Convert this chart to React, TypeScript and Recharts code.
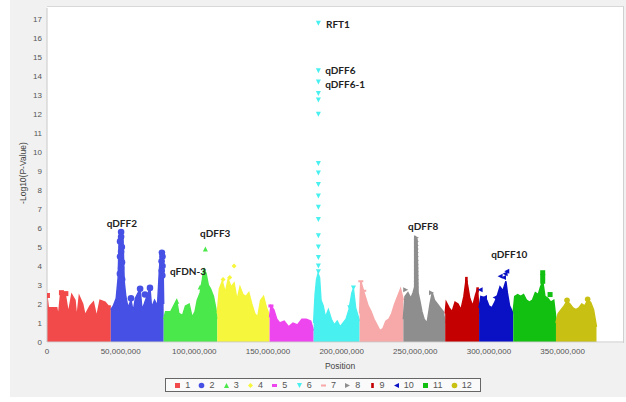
import React from "react";
import { ComposedChart, Area, Scatter, XAxis, YAxis } from "recharts";

const CHROMS = ["1", "2", "3", "4", "5", "6", "7", "8", "9", "10", "11", "12"];
const COLORS = [
  "#F24A4A", "#4650E4", "#4AE84A", "#F6F63C", "#EE46EE", "#48F0F0",
  "#F7A8A8", "#8E8E8E", "#C40000", "#0A10C4", "#12C012", "#C8C012",
];
const SHAPES = [
  "square", "circle", "up", "diamond", "flat", "down",
  "dash", "right", "bar", "left", "square", "circle",
];

const X_TICKS = [0, 50e6, 100e6, 150e6, 200e6, 250e6, 300e6, 350e6];
const Y_TICKS = [0, 1, 2, 3, 4, 5, 6, 7, 8, 9, 10, 11, 12, 13, 14, 15, 16, 17];

// upper edge of the dense SNP cloud per chromosome: [Mb, -log10(p)]
const chr1 = [[0, 2.4], [0.9, 1.8], [6.6, 1.8], [7.7, 1.3], [9.3, 2.6], [12.2, 2.6], [14.5, 1.5], [16.8, 2.5], [19, 2.2], [20.2, 1.2], [21.9, 2.4], [24.2, 2.0], [25.8, 1.4], [29.2, 1.9], [31.5, 2.1], [33.7, 1.3], [36, 2.2], [39.4, 2.1], [41.6, 1.9], [43.3, 1.9]];
const chr2 = [[43.3, 1.7], [45, 1.9], [47, 2.3], [48.3, 3.4], [49, 5.4], [50.2, 5.85], [51.6, 5.4], [52.4, 3.2], [53.5, 2.4], [55, 1.8], [57, 2.2], [58.5, 1.6], [60, 2.3], [63.2, 2.8], [64.5, 1.7], [66, 2.0], [69.9, 2.85], [71, 1.8], [73, 2.2], [75, 1.9], [76.3, 3.8], [77.2, 4.7], [78.7, 4.6], [79.2, 2.0]];
const chr3 = [[79.2, 1.2], [80.5, 1.6], [84, 1.6], [86, 1.9], [88, 2.2], [89.5, 1.5], [92, 1.4], [94, 1.9], [96.5, 2.0], [98.5, 1.3], [100.5, 1.6], [102, 2.2], [104, 2.6], [105.5, 3.3], [106.5, 3.9], [108, 3.6], [109.5, 3.0], [111, 2.8], [113, 2.4], [114.5, 1.8], [115.6, 1.2]];
const chr4 = [[115.6, 1.5], [117, 2.8], [119, 3.2], [121, 2.6], [123, 3.3], [125, 2.9], [127, 3.1], [129, 2.2], [131, 2.9], [133, 2.5], [135, 2.4], [137, 2.6], [139, 2.0], [141, 1.5], [143, 1.3], [145, 2.2], [147, 2.4], [149, 1.8], [151.1, 1.4]];
const chr5 = [[151.1, 1.3], [152, 1.9], [154, 1.7], [156, 1.2], [158, 1.0], [161, 1.1], [164, 0.8], [167, 1.0], [170, 0.9], [173, 1.2], [176, 1.2], [179, 1.1], [181, 0.6]];
const chr6 = [[181, 1.0], [182, 2.5], [183, 3.3], [184, 3.6], [185, 3.4], [186, 2.2], [187.5, 1.9], [189, 1.3], [191, 1.7], [193, 1.2], [195, 0.9], [197, 1.1], [199, 0.8], [201, 1.0], [203, 1.2], [205, 1.7], [207, 2.6], [208, 2.8], [209.5, 1.8], [211, 1.4], [212.2, 1.1]];
const chr7 = [[212.2, 1.5], [213, 3.2], [214.5, 2.8], [216, 2.4], [218, 1.9], [220, 1.6], [222, 1.2], [224, 0.9], [226, 0.6], [228, 0.7], [230, 1.1], [232, 1.2], [234, 1.5], [236, 2.0], [238, 2.4], [240, 2.8], [241.9, 2.2]];
const chr8 = [[241.9, 1.2], [243, 2.4], [245, 2.6], [247, 2.3], [248.5, 2.6], [249.6, 2.9], [250.3, 5.5], [251.2, 5.4], [251.9, 2.6], [253, 2.2], [254.5, 1.6], [256, 1.2], [258, 1.0], [260, 2.0], [261.5, 2.6], [263, 2.2], [265, 2.0], [267, 1.8], [269, 1.6], [270.3, 1.0]];
const chr9 = [[270.3, 1.5], [271, 2.1], [273, 1.8], [275, 1.6], [277, 2.1], [279, 2.0], [281, 1.7], [283, 2.4], [284.5, 3.3], [285.5, 3.0], [287, 2.3], [289, 1.9], [291, 2.5], [292.3, 2.8], [293.3, 1.5]];
const chr10 = [[293.3, 1.8], [294.5, 2.4], [296.5, 2.35], [298.5, 2.2], [300, 1.9], [302, 1.8], [304, 2.1], [305.5, 2.4], [307.5, 2.9], [309.5, 2.7], [311.5, 3.2], [312.5, 2.6], [314, 1.9], [316.5, 1.5]];
const chr11 = [[316.5, 1.6], [317.5, 2.4], [319.5, 2.5], [321.5, 2.4], [323.5, 2.5], [325.5, 2.2], [327.5, 2.1], [329.5, 2.2], [331.5, 2.6], [333.5, 2.5], [335, 2.9], [336.5, 3.2], [338, 2.4], [340, 2.3], [342, 2.1], [344, 2.2], [345.5, 1.2]];
const chr12 = [[345.5, 1.0], [347, 1.5], [349, 1.7], [351, 1.9], [353, 2.15], [355, 2.0], [357, 1.8], [359, 1.7], [361, 1.8], [363, 2.0], [365, 1.9], [367, 2.2], [369, 2.1], [371, 1.7], [373, 0.8]];
const ENVELOPES = [chr1, chr2, chr3, chr4, chr5, chr6, chr7, chr8, chr9, chr10, chr11, chr12];

// single markers standing above the cloud: [Mb, -log10(p)]
const hits1 = [[0.3, 2.45], [9.8, 2.6], [12.8, 2.55]];
const hits2 = [[50.3, 5.8], [50.3, 5.55], [49.6, 5.3], [50.8, 5.0], [50.3, 4.75], [49.6, 4.5], [50.9, 4.2], [50.3, 3.9], [49.5, 3.6], [51.0, 3.3], [78.0, 4.7], [78.4, 4.5], [77.8, 4.25], [78.4, 4.0], [77.9, 3.75], [78.3, 3.5], [57, 2.3], [63.2, 2.8], [66.5, 2.5], [69.9, 2.85]];
const hits3 = [[107.5, 4.9], [88.1, 2.15], [104, 2.9]];
const hits4 = [[127, 4.0], [124, 3.4], [119.5, 3.3]];
const hits5 = [[152, 1.9]];
const hits6 = [[184.2, 16.8], [184.2, 14.3], [184.2, 13.7], [184.2, 13.1], [184.2, 12.75], [184.2, 12.0], [184.2, 9.4], [184.2, 8.9], [184.2, 8.3], [184.2, 7.7], [184.2, 7.1], [184.2, 6.45], [184.2, 5.6], [184.2, 5.0], [184.2, 4.45], [184.2, 4.0], [184.2, 3.7], [208, 2.85], [205.5, 1.8]];
const hits7 = [[213, 3.2], [215, 2.7]];
const hits8 = [[250.8, 5.5], [250.8, 5.3], [250.8, 5.1], [250.8, 4.9], [250.8, 4.7], [250.8, 4.5], [250.8, 4.3], [250.8, 4.1], [250.8, 3.9], [250.8, 3.7], [250.8, 3.5], [250.8, 3.3], [250.8, 3.1], [250.8, 2.9], [243.5, 2.75], [261, 2.6]];
const hits9 = [[284.7, 3.3], [284.7, 3.1], [284.7, 2.9], [284.7, 2.7], [292.3, 2.75]];
const hits10 = [[294, 2.75], [297, 2.35], [304.2, 2.35], [307.6, 3.46], [309.9, 3.4], [312.1, 3.73], [311, 3.6]];
const hits11 = [[336.5, 3.65], [336.5, 3.45], [336.5, 3.2], [341.5, 2.5]];
const hits12 = [[353, 2.2], [367, 2.25]];
const HITS = [hits1, hits2, hits3, hits4, hits5, hits6, hits7, hits8, hits9, hits10, hits11, hits12];

// QTL / gene names written next to the peaks: [name, Mb, -log10(p)]
const NOTES: [string, number, number][] = [
  ["RFT1", 189.4, 16.76],
  ["qDFF6", 188.8, 14.34],
  ["qDFF6-1", 188.8, 13.6],
  ["qDFF2", 40.5, 6.27],
  ["qFDN-3", 83.5, 3.76],
  ["qDFF3", 103.9, 5.76],
  ["qDFF8", 245.1, 6.13],
  ["qDFF10", 301.5, 4.66],
];

const table = ENVELOPES.flatMap((env, i) =>
  env.map(([mb, p]) => ({ pos: mb * 1e6, ["c" + i]: p }))
);

function Marker({ kind, x, y, color, s = 5 }: { kind: string; x: number; y: number; color: string; s?: number }) {
  const h = s / 2;
  switch (kind) {
    case "square":
      return <rect x={x - h} y={y - h} width={s} height={s} fill={color} />;
    case "circle":
      return <circle cx={x} cy={y} r={h + 0.3} fill={color} />;
    case "up":
      return <polygon points={`${x},${y - h} ${x + h},${y + h} ${x - h},${y + h}`} fill={color} />;
    case "diamond":
      return <polygon points={`${x},${y - h} ${x + h},${y} ${x},${y + h} ${x - h},${y}`} fill={color} />;
    case "flat":
      return <rect x={x - h} y={y - h * 0.6} width={s} height={h * 1.2} fill={color} />;
    case "down":
      return <polygon points={`${x - h},${y - h} ${x + h},${y - h} ${x},${y + h}`} fill={color} />;
    case "dash":
      return <rect x={x - h} y={y - 1} width={s} height={2} fill={color} />;
    case "right":
      return <polygon points={`${x - h},${y - h} ${x + h},${y} ${x - h},${y + h}`} fill={color} />;
    case "bar":
      return <rect x={x - 1.3} y={y - h} width={2.6} height={s} fill={color} />;
    case "left":
      return <polygon points={`${x + h},${y - h} ${x - h},${y} ${x + h},${y + h}`} fill={color} />;
    default:
      return null;
  }
}

const fmt = (v: number) => v.toLocaleString("en-US");
const tickStyle = { fontSize: 8, fill: "#555", fontFamily: "Liberation Sans, Arial, sans-serif" };

export default function App() {
  return (
    <div style={{ position: "absolute", left: 0, top: 0, width: 626, height: 402, background: "#fff", fontFamily: "Liberation Sans, Arial, sans-serif" }}>
      <div style={{ position: "absolute", left: 10, top: 0, width: 616, height: 397, background: "#f1f1f1" }} />
      <div style={{ position: "absolute", left: 47, top: 6, width: 576, height: 336, background: "#fff", borderTop: "1px solid #d8d8d8", borderRight: "1px solid #d0d0d0" }} />
      <div style={{ position: "absolute", left: 0, top: 0 }}>
        <ComposedChart width={626} height={402} data={table} margin={{ top: 8, right: 3, bottom: 40, left: 10 }}>
          <XAxis
            dataKey="pos"
            type="number"
            domain={[0, 391e6]}
            ticks={X_TICKS}
            tickFormatter={fmt}
            tick={tickStyle}
            tickLine={false}
            tickSize={3}
            tickMargin={3}
            height={20}
            stroke="#c8c8c8"
            allowDataOverflow
          />
          <YAxis
            type="number"
            domain={[0, 17.6]}
            ticks={Y_TICKS}
            tick={tickStyle}
            tickLine={false}
            tickSize={3}
            tickMargin={2}
            width={37}
            stroke="#c8c8c8"
            allowDataOverflow
          />
          {CHROMS.map((c, i) => (
            <Area
              key={"a" + c}
              type="linear"
              dataKey={"c" + i}
              stroke={COLORS[i]}
              strokeWidth={1.5}
              fill={COLORS[i]}
              fillOpacity={1}
              dot={false}
              activeDot={false}
              isAnimationActive={false}
            />
          ))}
          {CHROMS.map((c, i) => (
            <Scatter
              key={"s" + c}
              data={HITS[i].map(([mb, p]) => ({ pos: mb * 1e6, p }))}
              dataKey="p"
              isAnimationActive={false}
              shape={(props: any) => <Marker kind={SHAPES[i]} x={props.cx} y={props.cy} color={COLORS[i]} s={i === 1 ? 6 : 5} />}
            />
          ))}
          <Scatter
            data={NOTES.map(([name, mb, p]) => ({ pos: mb * 1e6, p, name }))}
            dataKey="p"
            isAnimationActive={false}
            shape={(props: any) => (
              <text
                x={props.cx}
                y={props.cy}
                dominantBaseline="central"
                fontFamily="Lato, sans-serif"
                fontWeight={700}
                fontSize={10}
                fill="#222"
              >
                {props.payload.name}
              </text>
            )}
          />
        </ComposedChart>
      </div>
      <div style={{ position: "absolute", left: 23, top: 173, transform: "translate(-50%, -50%) rotate(-90deg)", fontSize: 8.5, color: "#444", whiteSpace: "nowrap" }}>
        -Log10(P-Value)
      </div>
      <div style={{ position: "absolute", left: 340, top: 366, transform: "translate(-50%, -50%)", fontSize: 8.5, color: "#444" }}>
        Position
      </div>
      <div
        style={{
          position: "absolute",
          left: 165,
          top: 378,
          width: 306,
          height: 12,
          border: "1px solid #666",
          background: "#fafafa",
          display: "flex",
          alignItems: "center",
          justifyContent: "space-around",
          padding: "0 4px",
          boxSizing: "content-box",
          fontSize: 9,
          color: "#555",
        }}
      >
        {CHROMS.map((c, i) => (
          <span key={c} style={{ display: "flex", alignItems: "center" }}>
            <svg width={7} height={7} style={{ marginRight: 4 }}>
              <Marker kind={SHAPES[i]} x={3.5} y={3.5} color={COLORS[i]} s={5} />
            </svg>
            {c}
          </span>
        ))}
      </div>
    </div>
  );
}
